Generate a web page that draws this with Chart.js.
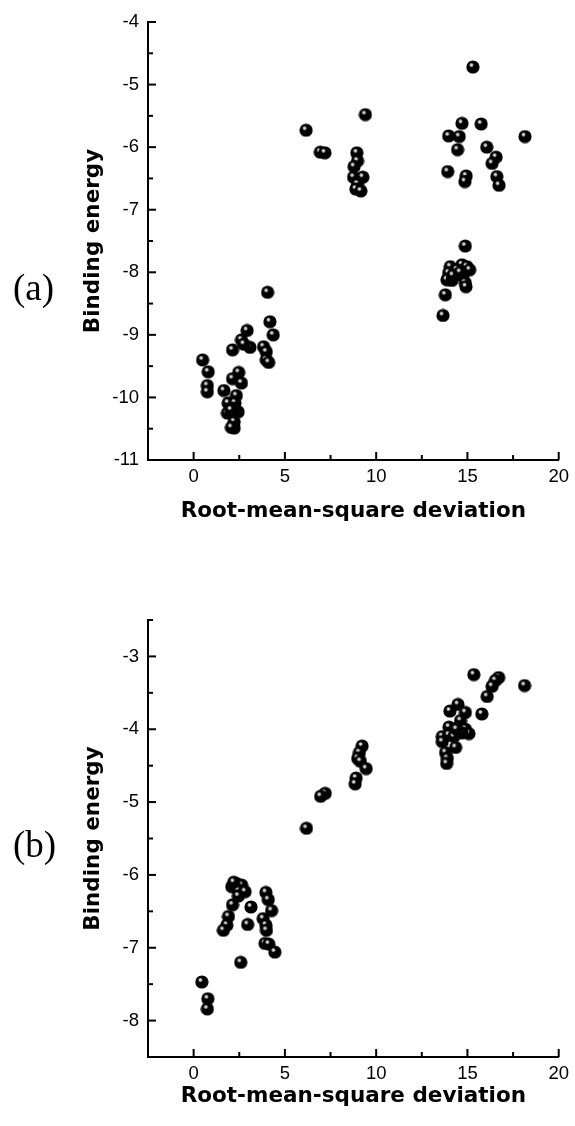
<!DOCTYPE html>
<html>
<head>
<meta charset="utf-8">
<script src="https://cdn.jsdelivr.net/npm/chart.js@4"></script>
<style>
  body { margin: 0; background: #fff; }
  #page { position: relative; width: 575px; height: 1126px; }
  .panel { position: absolute; left: 0; }
  .tag { position: absolute; left: 13px; font-family: "Liberation Serif", serif; font-size: 37px; color: #000; }
</style>
</head>
<body>
<div id="page">
  <div class="panel" style="top:0"><canvas id="chartA" width="575" height="540"></canvas></div>
  <div class="panel" style="top:560px"><canvas id="chartB" width="575" height="566"></canvas></div>
  <div class="tag" style="top:266px">(a)</div>
  <div class="tag" style="top:823px">(b)</div>
</div>
<script>
// (a) rmsd vs binding energy
const rmsdA = [15.30, 9.41, 6.16, 6.94, 7.19, 8.94, 8.98, 8.79, 8.76, 9.27, 8.98, 8.89, 9.16,
  14.70, 15.75, 13.97, 14.55, 18.15, 14.46, 16.06, 16.57, 16.35, 13.92, 14.93, 14.86, 16.61, 16.73,
  14.88, 14.06, 14.70, 14.97, 15.12, 13.97, 14.43, 13.88, 14.15, 14.75, 14.88, 14.92, 13.79, 13.66, 14.20, 14.60,
  4.05, 4.18, 4.36, 2.93, 2.62, 3.09, 2.13, 3.83, 3.98, 3.98, 4.11, 2.75,
  0.49, 0.80, 0.75, 0.75, 1.66, 2.47, 2.13, 2.62, 2.34, 1.89, 2.26, 2.44, 1.85, 2.16, 2.22, 2.22, 2.07, 2.05];
const energyA = [-4.72, -5.48, -5.73, -6.08, -6.09, -6.09, -6.22, -6.31, -6.48, -6.48, -6.59, -6.67, -6.70,
  -5.62, -5.63, -5.82, -5.83, -5.83, -6.04, -6.00, -6.16, -6.26, -6.39, -6.46, -6.55, -6.47, -6.61,
  -7.58, -7.91, -7.88, -7.91, -7.96, -8.01, -7.96, -8.12, -8.13, -8.06, -8.17, -8.23, -8.36, -8.69, -8.05, -8.00,
  -8.32, -8.79, -9.00, -8.93, -9.08, -9.20, -9.24, -9.19, -9.27, -9.40, -9.44, -9.15,
  -9.40, -9.59, -9.81, -9.91, -9.89, -9.60, -9.70, -9.77, -9.97, -10.09, -10.09, -10.23, -10.25, -10.17, -10.39, -10.49, -10.48, -10.20];

// (b)
const rmsdB = [15.35, 16.71, 16.53, 16.35, 18.13, 16.08, 15.79,
  14.48, 14.04, 14.89, 14.62, 13.99, 14.53, 14.89, 15.08, 13.62, 13.99, 14.26, 13.62, 14.35, 13.80, 13.90, 13.86, 14.70, 14.40,
  9.23, 9.08, 8.99, 9.14, 9.45, 8.90, 8.85, 7.21, 6.96, 6.18,
  2.36, 2.09, 2.63, 2.45, 2.82, 2.45, 2.20, 3.96, 4.09, 3.14, 2.13, 4.27, 1.91, 3.81, 3.96, 3.99, 1.82, 1.63, 2.96,
  3.91, 4.12, 4.45, 2.58, 0.45, 0.78, 0.75];
const energyB = [-3.25, -3.29, -3.33, -3.41, -3.40, -3.55, -3.79,
  -3.66, -3.75, -3.77, -3.88, -3.97, -3.97, -4.00, -4.06, -4.10, -4.08, -4.10, -4.17, -4.25, -4.32, -4.40, -4.47, -4.05, -4.00,
  -4.23, -4.32, -4.40, -4.44, -4.54, -4.67, -4.75, -4.88, -4.92, -5.36,
  -6.12, -6.16, -6.14, -6.21, -6.23, -6.29, -6.10, -6.24, -6.34, -6.44, -6.41, -6.49, -6.57, -6.60, -6.69, -6.76, -6.69, -6.76, -6.68,
  -6.94, -6.95, -7.06, -7.20, -7.47, -7.70, -7.84];

const xTicks = [0, 5, 10, 15, 20];
const xMinor = [2.5, 7.5, 12.5, 17.5];
const yTicksA = [-11, -10, -9, -8, -7, -6, -5, -4];
const yMinorA = [-10.5, -9.5, -8.5, -7.5, -6.5, -5.5, -4.5];
const yTicksB = [-8, -7, -6, -5, -4, -3];
const yMinorB = [-7.5, -6.5, -5.5, -4.5, -3.5, -2.5];

// shaded ball marker
function ball() {
  const c = document.createElement('canvas');
  c.width = 14; c.height = 14;
  const g = c.getContext('2d');
  g.fillStyle = '#000';
  g.beginPath(); g.arc(7, 7, 6.6, 0, Math.PI * 2); g.fill();
  const hl = g.createRadialGradient(5.5, 5, 0, 5.5, 5, 2.5);
  hl.addColorStop(0, 'rgba(255,255,255,1)');
  hl.addColorStop(0.5, 'rgba(255,255,255,0.7)');
  hl.addColorStop(1, 'rgba(255,255,255,0)');
  g.fillStyle = hl;
  g.beginPath(); g.arc(5.5, 5, 2.5, 0, Math.PI * 2); g.fill();
  return c;
}
const marker = ball();

// Origin-style ticks pointing into the plot
const innerTicks = {
  id: 'innerTicks',
  afterDraw(chart, args, opts) {
    const {ctx, chartArea: a, scales: {x, y}} = chart;
    ctx.save();
    ctx.strokeStyle = '#000';
    ctx.lineWidth = 2;
    const line = (x0, y0, x1, y1) => { ctx.beginPath(); ctx.moveTo(x0, y0); ctx.lineTo(x1, y1); ctx.stroke(); };
    xTicks.forEach(v => { const p = x.getPixelForValue(v); line(p, a.bottom, p, a.bottom - 8); });
    xMinor.forEach(v => { const p = x.getPixelForValue(v); line(p, a.bottom, p, a.bottom - 5); });
    opts.major.forEach(v => { const p = y.getPixelForValue(v); line(a.left, p, a.left + 8, p); });
    opts.minor.forEach(v => { const p = y.getPixelForValue(v); line(a.left, p, a.left + 5, p); });
    ctx.restore();
  }
};

function makeChart(id, xs, ys, yMin, yMax, yTicks, yMinor, padTop, xHeight, titlePad) {
  return new Chart(document.getElementById(id).getContext('2d'), {
    type: 'scatter',
    data: {
      datasets: [{
        data: xs.map((v, i) => ({x: v, y: ys[i]})),
        pointStyle: marker,
        pointRadius: 6,
        pointHoverRadius: 6
      }]
    },
    options: {
      responsive: false,
      animation: false,
      events: [],
      layout: { padding: { left: 80, right: 11.5, top: padTop, bottom: 0 } },
      plugins: {
        legend: { display: false },
        tooltip: { enabled: false },
        innerTicks: { major: yTicks, minor: yMinor }
      },
      scales: {
        x: {
          type: 'linear',
          min: -2.5,
          max: 20,
          afterBuildTicks: s => { s.ticks = xTicks.map(v => ({value: v})); },
          afterFit: s => { s.height = xHeight; },
          grid: { display: true, drawOnChartArea: false, drawTicks: false },
          border: { display: true, color: '#000', width: 2 },
          ticks: { color: '#000', padding: 6, maxRotation: 0, font: { family: 'Liberation Sans', size: 18.5 } },
          title: {
            display: true,
            text: 'Root-mean-square deviation',
            color: '#000',
            padding: { top: 0, bottom: titlePad },
            font: { family: 'DejaVu Sans', weight: 'bold', size: 21.5 }
          }
        },
        y: {
          min: yMin,
          max: yMax,
          afterBuildTicks: s => { s.ticks = yTicks.map(v => ({value: v})); },
          afterFit: s => { s.width = 68; },
          grid: { display: true, drawOnChartArea: false, drawTicks: false },
          border: { display: true, color: '#000', width: 2 },
          ticks: { color: '#000', padding: 9, font: { family: 'Liberation Sans', size: 18.5 } },
          title: {
            display: true,
            text: 'Binding energy',
            color: '#000',
            padding: { top: 1, bottom: 0 },
            font: { family: 'DejaVu Sans', weight: 'bold', size: 21.5 }
          }
        }
      }
    },
    plugins: [innerTicks]
  });
}

makeChart('chartA', rmsdA, energyA, -11, -4, yTicksA, yMinorA, 22, 80, 15.6);
makeChart('chartB', rmsdB, energyB, -8.5, -2.5, yTicksB, yMinorB, 60, 69, 16.6);
</script>
</body>
</html>
